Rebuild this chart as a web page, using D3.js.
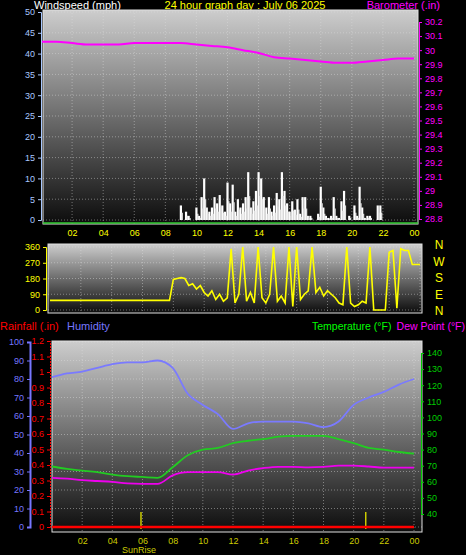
<!DOCTYPE html>
<html><head><meta charset="utf-8">
<script src="https://cdn.jsdelivr.net/npm/d3@7"></script>
<style>body{margin:0;background:#000}svg{display:block;font-family:"Liberation Sans",Arial,sans-serif}</style>
</head><body><svg id="chart" width="466" height="555"></svg>
<script>
// hourly readings (0..24)
const hours = d3.range(0, 25);
const barometer = [30.06,30.06,30.05,30.04,30.04,30.04,30.05,30.05,30.05,30.05,30.04,30.03,30.02,30.0,29.98,29.95,29.94,29.93,29.92,29.91,29.91,29.92,29.93,29.94,29.94];
const humidity = [81,83,84,86,88,89,89,90,86,72,66,61,53,56,57,57,57,56,54,57,66,70,73,77,80];
const temperature = [69.5,68,67,66,64.5,63.5,63,62.5,69,76.5,80,81,84,85.5,86.5,88,88.5,88.5,88.5,86.5,84,81,80,78.5,77.5];
const dewPoint = [62.5,62,61,60.5,60,59,58.7,58.7,64,66,66,66,64.5,67,68.5,69.3,69.3,69,69.3,70,70,69.5,68.8,68.8,68.8];
const rainfall = [0,0,0,0,0,0,0,0,0,0,0,0,0,0,0,0,0,0,0,0,0,0,0,0,0];
// wind gusts every 10 min from 09:00 to 22:00 (mph)
const windStart = 9;
const windSpeed = [3.5,0,2,1,0,0, 3,1,5.5,10,3,2, 3,5.5,4,6,3.5,2, 9,4,8.5,2,5,3,
  4,5.5,11.5,3,4.5,7, 11.5,10,5.5,3,5.5,2, 3.5,6.5,5,11.5,7,4, 2,4.5,2.5,5,1.5,5.5,
  5.5,1,1,0,0,1.5, 8,3,1,0.5,1,5.5, 1,0.5,4.5,7,0,1, 0,3.5,1,8,3,0.5, 1,1,0,0,3.5,3.5,0];
// wind direction every 15 min (degrees)
const windDir = [55,55,55,55,55,55,55,55,55,55,55,55,55,55,55,55,55,55,55,55,55,55,55,55,55,55,55,55,55,55,55,55,
  175,180,185,180,140,150,120,140,100,80,110,60,90,50,70,350,40,90,360,50,100,40,360,70,40,90,360,50,80,40,360,20,
  360,60,90,110,360,100,130,80,110,90,70,40,30,360,40,20,30,50,40,360,0,0,0,0,330,340,10,350,340,340,260,260,260];
const sunTimes = [5.9, 20.8];
const sunLabels = ["SunRise", ""];
const hourTicks = [2,4,6,8,10,12,14,16,18,20,22,24];
const hourFmt = h => String(h % 24).padStart(2, "0");

const svg = d3.select("#chart");
const defs = svg.append("defs");
const grad = defs.append("linearGradient").attr("id", "bg").attr("x1", 0).attr("x2", 0).attr("y1", 0).attr("y2", 1);
grad.append("stop").attr("offset", "0%").attr("stop-color", "#cdcdcd");
grad.append("stop").attr("offset", "100%").attr("stop-color", "#0c0c0c");

function panel(x0, x1, y0, y1) {
  svg.append("rect").attr("x", x0).attr("y", y0).attr("width", x1 - x0).attr("height", y1 - y0)
    .attr("fill", "url(#bg)").attr("stroke", "#e0e0e0").attr("stroke-width", 1);
}
function grid(xs, xTicks, yPos, x0, x1, y0, y1) {
  const g = svg.append("g").attr("stroke", "#ddd").attr("stroke-opacity", 0.45).attr("stroke-dasharray", "1,2");
  xTicks.forEach(t => g.append("line").attr("x1", xs(t)).attr("x2", xs(t)).attr("y1", y0).attr("y2", y1));
  yPos.forEach(y => g.append("line").attr("x1", x0).attr("x2", x1).attr("y1", y).attr("y2", y));
}
function styleAxis(g, color) {
  g.selectAll("path,line").attr("stroke", color);
  g.selectAll("text").attr("fill", color).attr("font-size", 9);
}

// ---------- top panel ----------
svg.append("text").attr("x", 34).attr("y", 9).attr("fill", "#fff").attr("font-size", 11).text("Windspeed (mph)");
svg.append("text").attr("x", 245).attr("y", 9).attr("fill", "#ff0").attr("font-size", 11).attr("text-anchor", "middle").text("24 hour graph day : July 06 2025");
svg.append("text").attr("x", 440).attr("y", 9).attr("fill", "#f0f").attr("font-size", 11).attr("text-anchor", "end").text("Barometer (.in)");

const x1 = d3.scaleLinear().domain([0, 24]).range([41, 414]);
const yWind = d3.scaleLinear().domain([0, 50]).range([220, 12]);
const yBaro = d3.scaleLinear().domain([28.8, 30.2]).range([219, 22]);
panel(43, 418, 10, 224);
grid(x1, hourTicks, d3.range(0, 51, 5).map(yWind), 43, 418, 10, 224);
svg.append("line").attr("x1", 43).attr("x2", 418).attr("y1", 223).attr("y2", 223).attr("stroke", "#3c3").attr("stroke-width", 1.5);
svg.append("g").attr("stroke", "#fff").attr("stroke-width", 2.2)
  .selectAll("line").data(windSpeed).join("line")
  .attr("x1", (d, i) => x1(windStart + i / 6)).attr("x2", (d, i) => x1(windStart + i / 6))
  .attr("y1", yWind(0)).attr("y2", d => yWind(d));
svg.append("g").attr("stroke", "#ddd").attr("stroke-width", 1.5)
  .selectAll("line").data(windSpeed).join("line")
  .attr("x1", (d, i) => x1(windStart + (i + 0.5) / 6)).attr("x2", (d, i) => x1(windStart + (i + 0.5) / 6))
  .attr("y1", yWind(0)).attr("y2", d => yWind(d * 0.5));
svg.append("path").datum(barometer).attr("fill", "none").attr("stroke", "#f0f").attr("stroke-width", 2)
  .attr("d", d3.line().x((d, i) => x1(hours[i])).y(d => yBaro(d)).curve(d3.curveMonotoneX));
styleAxis(svg.append("g").attr("transform", "translate(41,0)").call(d3.axisLeft(yWind).tickValues(d3.range(0, 51, 5)).tickSize(3)), "#a8c8ff");
styleAxis(svg.append("g").attr("transform", "translate(419,0)").call(d3.axisRight(yBaro).tickValues(d3.range(28.8, 30.21, 0.1)).tickFormat(d3.format(".3~f")).tickSize(3)), "#f0f");
const xt = svg.append("g").attr("transform", "translate(0,226)").call(d3.axisBottom(x1).tickValues(hourTicks).tickFormat(hourFmt).tickSize(0).tickPadding(4));
styleAxis(xt, "#ff0"); xt.select("path").remove();

// ---------- wind direction panel ----------
const x2 = d3.scaleLinear().domain([0, 24]).range([50, 420]);
const yDir = d3.scaleLinear().domain([0, 360]).range([310, 247]);
panel(48, 422, 244, 313);
grid(x2, hourTicks, [0, 90, 180, 270, 360].map(yDir), 48, 422, 244, 313);
svg.append("path").datum(windDir).attr("fill", "none").attr("stroke", "#ff0").attr("stroke-width", 1.6)
  .attr("d", d3.line().x((d, i) => x2(i / 4)).y(d => yDir(d)));
styleAxis(svg.append("g").attr("transform", "translate(46,0)").call(d3.axisLeft(yDir).tickValues([0, 90, 180, 270, 360]).tickSize(3)), "#ff0");
["N", "W", "S", "E", "N"].forEach((c, i) => svg.append("text").attr("x", 439).attr("y", 249 + i * 16.5)
  .attr("fill", "#ff0").attr("font-size", 12).attr("text-anchor", "middle").text(c));

// ---------- bottom panel ----------
svg.append("text").attr("x", 0).attr("y", 330).attr("fill", "#f00").attr("font-size", 11).text("Rainfall (.in)");
svg.append("text").attr("x", 67).attr("y", 330).attr("fill", "#77f").attr("font-size", 11).text("Humidity");
svg.append("text").attr("x", 312).attr("y", 330).attr("fill", "#0f0").attr("font-size", 10.5).text("Temperature (°F)");
svg.append("text").attr("x", 465).attr("y", 330).attr("fill", "#f0f").attr("font-size", 10.5).attr("text-anchor", "end").text("Dew Point (°F)");

const x3 = d3.scaleLinear().domain([0, 24]).range([52, 414]);
const yHum = d3.scaleLinear().domain([0, 100]).range([527, 342]);
const yRain = d3.scaleLinear().domain([0, 1.2]).range([527, 341]);
const yTemp = d3.scaleLinear().domain([40, 140]).range([514, 353]);
panel(52, 422, 341, 532);
grid(x3, hourTicks, d3.range(0, 101, 10).map(yHum), 52, 422, 341, 532);
svg.append("g").selectAll("line").data(sunTimes).join("line")
  .attr("x1", d => x3(d)).attr("x2", d => x3(d)).attr("y1", 512).attr("y2", 529)
  .attr("stroke", "#cc0").attr("stroke-width", 1.5);
svg.append("path").datum(rainfall).attr("fill", "none").attr("stroke", "#f00").attr("stroke-width", 2.5)
  .attr("d", d3.line().x((d, i) => x3(hours[i])).y(d => yRain(d)));
const lineOf = (arr, y) => d3.line().x((d, i) => x3(hours[i])).y(d => y(d)).curve(d3.curveMonotoneX)(arr);
svg.append("path").attr("d", lineOf(humidity, yHum)).attr("fill", "none").attr("stroke", "#7a7aff").attr("stroke-width", 1.8);
svg.append("path").attr("d", lineOf(temperature, yTemp)).attr("fill", "none").attr("stroke", "#2c2").attr("stroke-width", 1.8);
svg.append("path").attr("d", lineOf(dewPoint, yTemp)).attr("fill", "none").attr("stroke", "#e0e").attr("stroke-width", 1.8);

const ha = svg.append("g").attr("transform", "translate(30,0)").call(d3.axisLeft(yHum).tickValues(d3.range(0, 101, 10)).tickSize(3));
styleAxis(ha, "#77f"); ha.select("path").attr("stroke-width", 2);
const ra = svg.append("g").attr("transform", "translate(50,0)").call(d3.axisLeft(yRain).tickValues(d3.range(0, 1.21, 0.1)).tickFormat(d3.format(".2~f")).tickSize(3));
styleAxis(ra, "#f00"); ra.select("path").attr("stroke-dasharray", "2,1");
styleAxis(svg.append("g").attr("transform", "translate(421,0)").call(d3.axisRight(yTemp).tickValues(d3.range(40, 141, 10)).tickSize(3)), "#0c0");
const xa = svg.append("g").attr("transform", "translate(0,535)").call(d3.axisBottom(x3).tickValues(hourTicks).tickFormat(hourFmt).tickSize(0).tickPadding(3));
styleAxis(xa, "#cc0"); xa.select("path").remove();
svg.append("g").selectAll("text").data(sunTimes).join("text")
  .attr("x", d => x3(d) - 2).attr("y", 553).attr("fill", "#cc0").attr("font-size", 9).attr("text-anchor", "middle")
  .text((d, i) => sunLabels[i]);
</script></body></html>
